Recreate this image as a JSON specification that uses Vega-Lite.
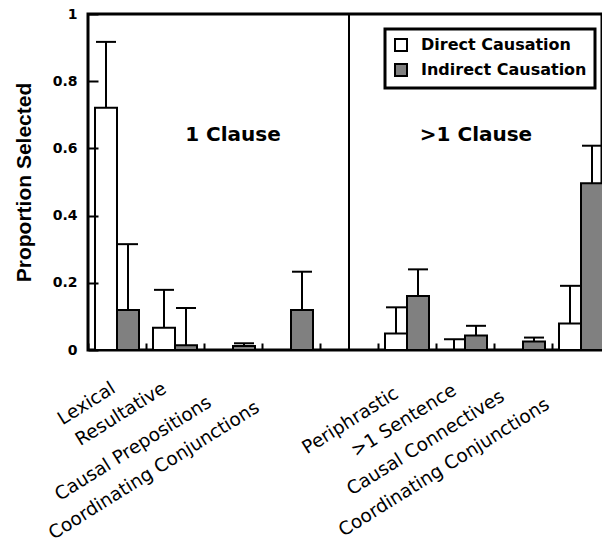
{
  "$schema": "https://vega.github.io/schema/vega-lite/v6.json",
  "autosize": "none",
  "width": 514,
  "height": 336,
  "padding": {"left": 88, "top": 14, "right": 0, "bottom": 196},
  "background": "white",
  "config": {
    "view": {"stroke": "black", "strokeWidth": 3},
    "font": "DejaVu Sans"
  },
  "datasets": {
    "bars": [
      {"cat": "Lexical", "series": "Direct Causation", "value": 0.721, "upper": 0.917},
      {"cat": "Lexical", "series": "Indirect Causation", "value": 0.119, "upper": 0.315},
      {"cat": "Resultative", "series": "Direct Causation", "value": 0.066, "upper": 0.179},
      {"cat": "Resultative", "series": "Indirect Causation", "value": 0.014, "upper": 0.125},
      {"cat": "Causal Prepositions", "series": "Direct Causation", "value": 0, "upper": 0},
      {"cat": "Causal Prepositions", "series": "Indirect Causation", "value": 0.012, "upper": 0.02},
      {"cat": "Coordinating Conjunctions", "series": "Direct Causation", "value": 0, "upper": 0},
      {"cat": "Coordinating Conjunctions", "series": "Indirect Causation", "value": 0.119, "upper": 0.233},
      {"cat": "Periphrastic", "series": "Direct Causation", "value": 0.049, "upper": 0.127},
      {"cat": "Periphrastic", "series": "Indirect Causation", "value": 0.161, "upper": 0.24},
      {"cat": ">1 Sentence", "series": "Direct Causation", "value": 0, "upper": 0.032},
      {"cat": ">1 Sentence", "series": "Indirect Causation", "value": 0.043, "upper": 0.072},
      {"cat": "Causal Connectives", "series": "Direct Causation", "value": 0, "upper": 0},
      {"cat": "Causal Connectives", "series": "Indirect Causation", "value": 0.025, "upper": 0.037},
      {"cat": "Coordinating Conjunctions#2", "series": "Direct Causation", "value": 0.079, "upper": 0.191},
      {"cat": "Coordinating Conjunctions#2", "series": "Indirect Causation", "value": 0.496, "upper": 0.608}
    ],
    "divider": [{"cat": "gap"}],
    "label1": [{"cat": "Causal Prepositions", "y": 0.64, "label": "1 Clause"}],
    "label2": [{"cat": ">1 Sentence", "series": "Indirect Causation", "y": 0.64, "label": ">1 Clause"}]
  },
  "layer": [
    {
      "data": {"name": "bars"},
      "mark": {"type": "bar", "stroke": "black", "strokeWidth": 2},
      "encoding": {
        "x": {
          "field": "cat",
          "type": "nominal",
          "sort": null,
          "title": null,
          "scale": {
            "domain": ["Lexical", "Resultative", "Causal Prepositions", "Coordinating Conjunctions", "gap", "Periphrastic", ">1 Sentence", "Causal Connectives", "Coordinating Conjunctions#2"],
            "range": [0, 522],
            "paddingInner": 0,
            "paddingOuter": 0
          },
          "axis": {
            "zindex": 1,
            "offset": -7,
            "domain": false,
            "tickBand": "extent",
            "ticks": true,
            "tickSize": 7,
            "tickWidth": 2,
            "tickColor": "black",
            "labelAngle": -32,
            "labelAlign": "right",
            "labelBaseline": "middle",
            "labelFont": "DejaVu Sans",
            "labelFontSize": 18.5,
            "labelColor": "black",
            "labelLimit": 400,
            "labelOverlap": false,
            "labelFlush": false,
            "labelExpr": "isString(datum.value) && datum.value != 'gap' ? replace(datum.value, '#2', '') : ''",
            "labelOffset": {
              "condition": [
                {"test": "datum.value == 'Lexical'", "value": -4},
                {"test": "datum.value == 'Resultative'", "value": -11},
                {"test": "datum.value == 'Causal Prepositions'", "value": -24},
                {"test": "datum.value == 'Coordinating Conjunctions'", "value": -34},
                {"test": "datum.value == 'Periphrastic'", "value": -11},
                {"test": "datum.value == '>1 Sentence'", "value": -11},
                {"test": "datum.value == 'Causal Connectives'", "value": -21}
              ],
              "value": -34
            },
            "labelPadding": {
              "condition": [
                {"test": "datum.value == 'Lexical'", "value": 36},
                {"test": "datum.value == 'Resultative'", "value": 36},
                {"test": "datum.value == 'Causal Prepositions'", "value": 50},
                {"test": "datum.value == 'Coordinating Conjunctions'", "value": 55},
                {"test": "datum.value == 'Periphrastic'", "value": 41},
                {"test": "datum.value == '>1 Sentence'", "value": 38},
                {"test": "datum.value == 'Causal Connectives'", "value": 44}
              ],
              "value": 52
            }
          }
        },
        "xOffset": {
          "field": "series",
          "type": "nominal",
          "scale": {"domain": ["Direct Causation", "Indirect Causation"], "paddingInner": 0, "paddingOuter": 0.318}
        },
        "y": {
          "field": "value",
          "type": "quantitative",
          "title": "Proportion Selected",
          "scale": {"domain": [0, 1], "nice": false},
          "axis": {
            "zindex": 1,
            "offset": -10,
            "domain": false,
            "values": [0, 0.1, 0.2, 0.3, 0.4, 0.5, 0.6, 0.7, 0.8, 0.9, 1],
            "format": "~g",
            "labelExpr": "round(datum.value * 10) % 2 == 0 ? datum.label : ''",
            "grid": false,
            "ticks": true,
            "tickColor": "black",
            "tickWidth": 2,
            "tickSize": 10,
            "tickDash": {
              "condition": {"test": "round(datum.value * 10) % 2 == 1", "value": [0, 4, 6, 30]},
              "value": []
            },
            "labelFont": "DejaVu Sans",
            "labelFontWeight": "bold",
            "labelFontSize": 14,
            "labelColor": "black",
            "labelPadding": 11,
            "titleFont": "Liberation Sans",
            "titleFontWeight": "bold",
            "titleFontSize": 21,
            "titleColor": "black",
            "titlePadding": 18
          }
        },
        "fill": {
          "field": "series",
          "type": "nominal",
          "scale": {"domain": ["Direct Causation", "Indirect Causation"], "range": ["white", "#808080"]},
          "legend": {
            "title": null,
            "orient": "none",
            "legendX": 297,
            "legendY": 15,
            "strokeColor": "black",
            "fillColor": "white",
            "padding": 8,
            "rowPadding": 5,
            "symbolType": "square",
            "symbolSize": 144,
            "symbolStrokeColor": "black",
            "symbolStrokeWidth": 2,
            "symbolOpacity": 1,
            "labelFont": "DejaVu Sans",
            "labelFontWeight": "bold",
            "labelFontSize": 16,
            "labelColor": "black",
            "labelOffset": 12,
            "labelLimit": 400,
            "encode": {"legend": {"update": {"strokeWidth": {"value": 3}}}}
          }
        }
      }
    },
    {
      "data": {"name": "bars"},
      "transform": [{"filter": "datum.upper > datum.value"}],
      "mark": {"type": "rule", "color": "black", "strokeWidth": 2},
      "encoding": {
        "x": {"field": "cat", "type": "nominal", "sort": null},
        "xOffset": {"field": "series", "type": "nominal"},
        "y": {"field": "value", "type": "quantitative"},
        "y2": {"field": "upper"}
      }
    },
    {
      "data": {"name": "bars"},
      "transform": [{"filter": "datum.upper > datum.value"}],
      "mark": {"type": "tick", "orient": "horizontal", "color": "black", "size": 20, "thickness": 2, "opacity": 1},
      "encoding": {
        "x": {"field": "cat", "type": "nominal", "sort": null},
        "xOffset": {"field": "series", "type": "nominal"},
        "y": {"field": "upper", "type": "quantitative"}
      }
    },
    {
      "data": {"name": "divider"},
      "mark": {"type": "rule", "color": "black", "strokeWidth": 2},
      "encoding": {
        "x": {"field": "cat", "type": "nominal", "sort": null}
      }
    },
    {
      "data": {"name": "label1"},
      "mark": {"type": "text", "font": "DejaVu Sans", "fontWeight": "bold", "fontSize": 20, "color": "black", "align": "center", "baseline": "middle"},
      "encoding": {
        "x": {"field": "cat", "type": "nominal", "sort": null},
        "y": {"field": "y", "type": "quantitative"},
        "text": {"field": "label"}
      }
    },
    {
      "data": {"name": "label2"},
      "mark": {"type": "text", "font": "DejaVu Sans", "fontWeight": "bold", "fontSize": 20, "color": "black", "align": "center", "baseline": "middle"},
      "encoding": {
        "x": {"field": "cat", "type": "nominal", "sort": null},
        "xOffset": {"field": "series", "type": "nominal"},
        "y": {"field": "y", "type": "quantitative"},
        "text": {"field": "label"}
      }
    }
  ]
}
